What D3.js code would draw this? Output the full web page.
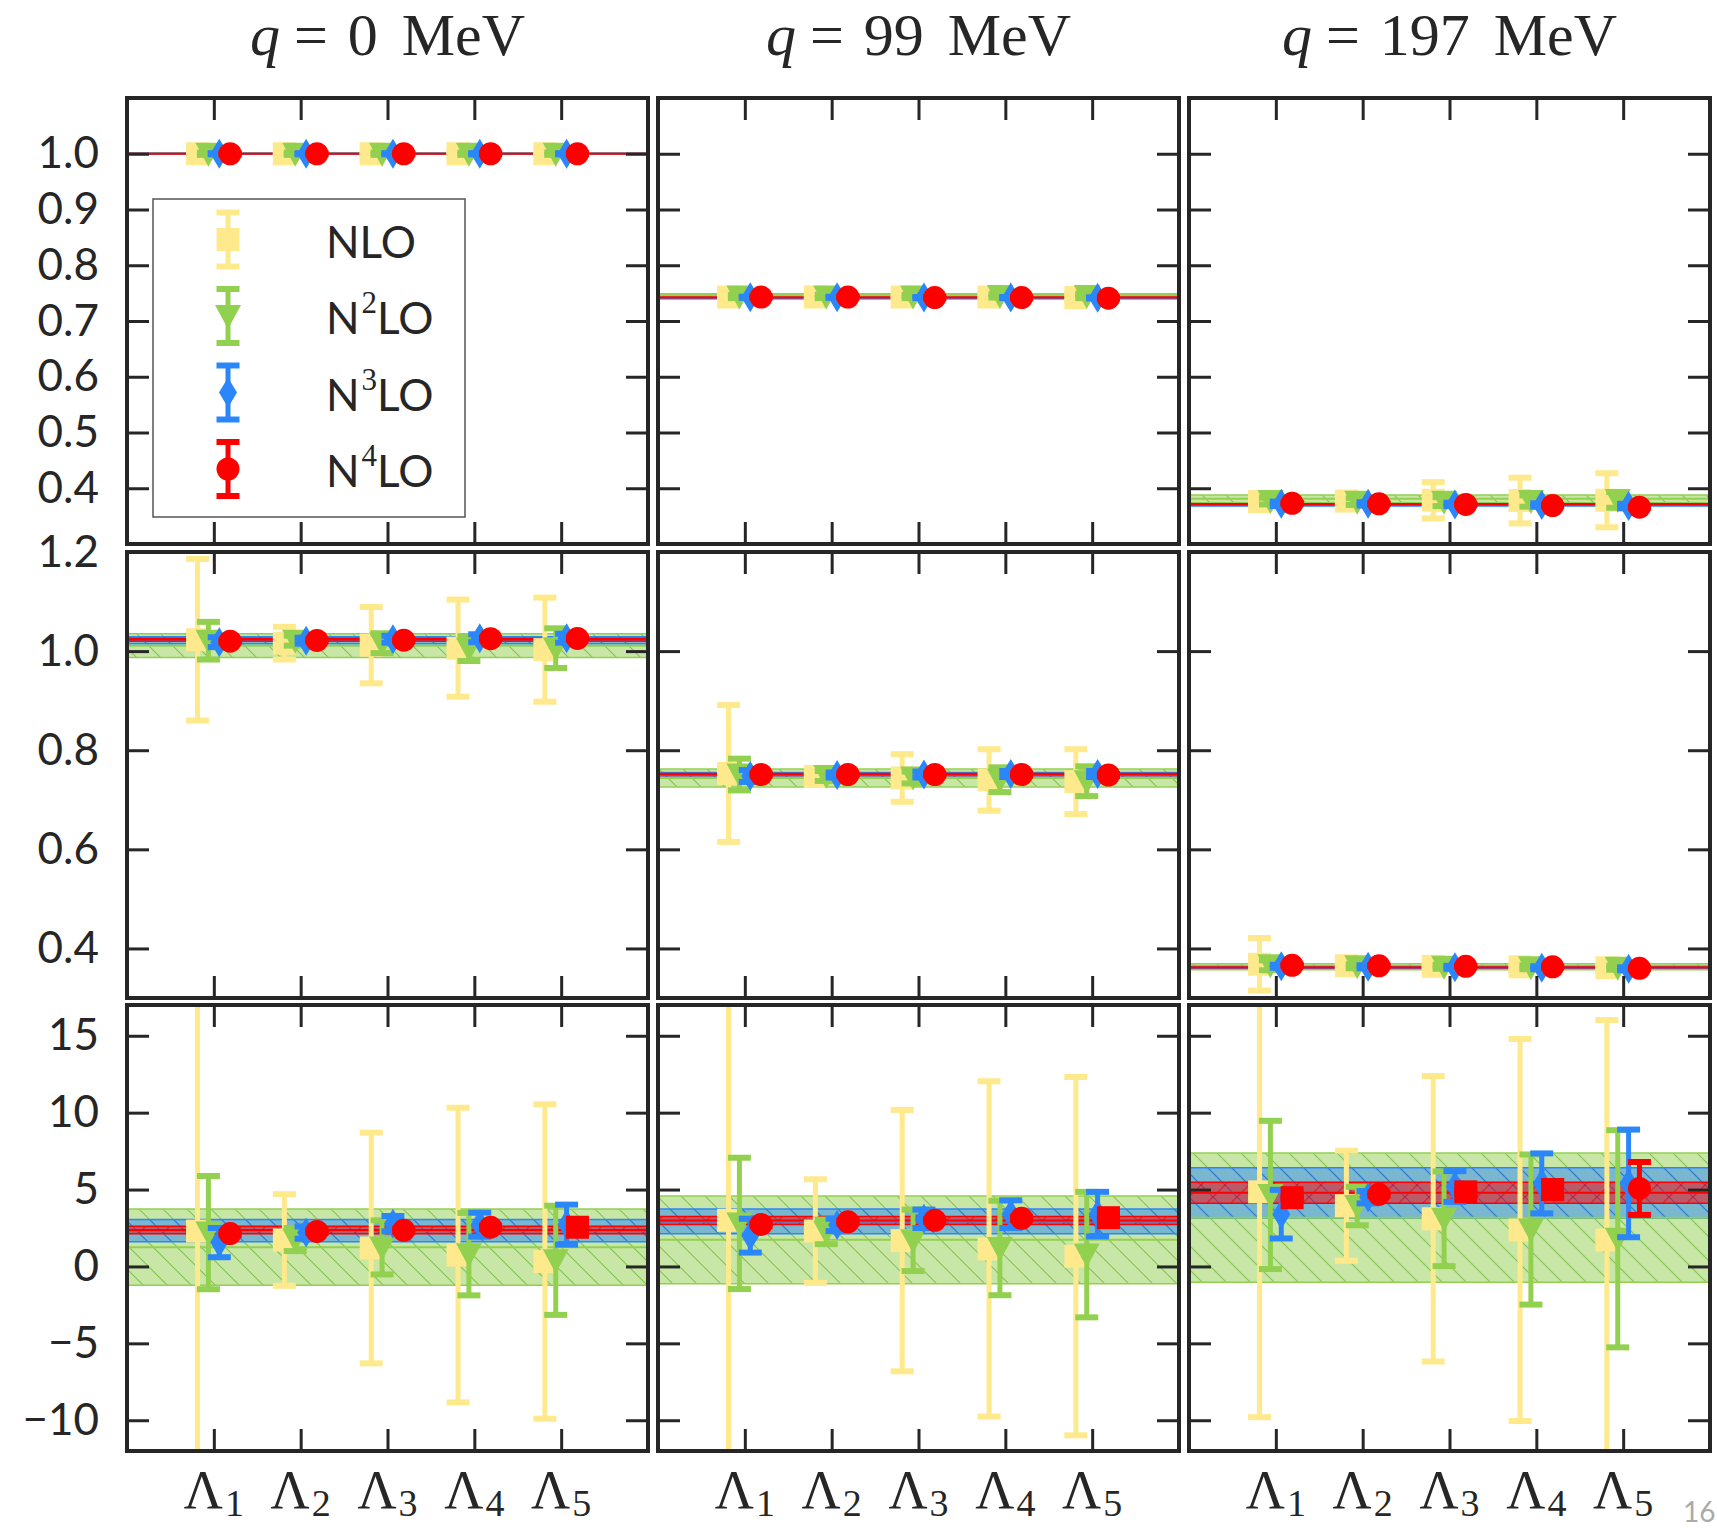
<!DOCTYPE html>
<html lang="en">
<head>
<meta charset="UTF-8">
<title>form factors</title>
<script src="https://cdn.jsdelivr.net/npm/d3@7"></script>
<style>
  body { margin: 0; background: #fff; }
</style>
</head>
<body>
<svg id="chart" width="1717" height="1530"></svg>
<script>
// categories
const orders = ['NLO', 'N2LO', 'N3LO', 'N4LO']
const orderSup = ['', '2', '3', '4']
const cutoffs = [1, 2, 3, 4, 5]
const qValues = [0, 99, 197]
const colors = ['#fee98c', '#92d050', '#2a86f9', '#ff0000']

// y axis per row
const r1Domain = [0.3, 1.1], r1Ticks = [0.4, 0.5, 0.6, 0.7, 0.8, 0.9, 1.0]
const r2Domain = [0.3, 1.2], r2Ticks = [0.4, 0.6, 0.8, 1.0, 1.2]
const r3Domain = [-12, 17], r3Ticks = [-10, -5, 0, 5, 10, 15]

// row 1 : values / errors  (rows of the arrays = NLO, N2LO, N3LO, N4LO)
const r1q0Val = [[1, 1, 1, 1, 1], [1, 1, 1, 1, 1], [1, 1, 1, 1, 1], [1, 1, 1, 1, 1]]
const r1q0Err = [[0.003, 0.003, 0.003, 0.003, 0.003], [0.002, 0.002, 0.002, 0.002, 0.002], [0.001, 0.001, 0.001, 0.001, 0.001], [0.001, 0.001, 0.001, 0.001, 0.001]]
const r1q99Val = [[0.743, 0.743, 0.743, 0.743, 0.742], [0.744, 0.744, 0.744, 0.745, 0.745], [0.7425, 0.7425, 0.742, 0.742, 0.7415], [0.743, 0.743, 0.742, 0.742, 0.741]]
const r1q99Err = [[0.002, 0.003, 0.003, 0.005, 0.006], [0.003, 0.003, 0.003, 0.003, 0.004], [0.001, 0.001, 0.001, 0.001, 0.001], [0.001, 0.001, 0.001, 0.001, 0.001]]
const r1q197Val = [[0.376, 0.377, 0.3785, 0.378, 0.3785], [0.377, 0.376, 0.376, 0.377, 0.379], [0.372, 0.372, 0.371, 0.370, 0.368], [0.373, 0.372, 0.371, 0.369, 0.366]]
const r1q197Err = [[0.004, 0.013, 0.0325, 0.041, 0.0485], [0.006, 0.006, 0.008, 0.010, 0.014], [0.004, 0.003, 0.003, 0.003, 0.004], [0.001, 0.001, 0.001, 0.001, 0.001]]

// row 2
const r2q0Val = [[1.023, 1.016, 1.012, 1.006, 1.003], [1.021, 1.021, 1.016, 1.005, 1.006], [1.018, 1.021, 1.024, 1.026, 1.026], [1.020, 1.0215, 1.022, 1.025, 1.0255]]
const r2q0Err = [[0.163, 0.033, 0.077, 0.098, 0.105], [0.038, 0.010, 0.020, 0.025, 0.040], [0.010, 0.006, 0.007, 0.008, 0.009], [0.002, 0.002, 0.002, 0.002, 0.002]]
const r2q99Val = [[0.753, 0.747, 0.744, 0.740, 0.7365], [0.751, 0.748, 0.745, 0.7405, 0.7375], [0.748, 0.750, 0.751, 0.752, 0.752], [0.751, 0.751, 0.751, 0.751, 0.750]]
const r2q99Err = [[0.138, 0.006, 0.048, 0.062, 0.0655], [0.032, 0.010, 0.012, 0.025, 0.030], [0.012, 0.005, 0.006, 0.006, 0.006], [0.002, 0.002, 0.002, 0.002, 0.002]]
const r2q197Val = [[0.368, 0.365, 0.364, 0.363, 0.361], [0.366, 0.364, 0.363, 0.362, 0.361], [0.364, 0.363, 0.362, 0.361, 0.359], [0.366, 0.365, 0.364, 0.363, 0.360]]
const r2q197Err = [[0.053, 0.006, 0.005, 0.006, 0.006], [0.010, 0.004, 0.004, 0.004, 0.004], [0.003, 0.003, 0.003, 0.003, 0.003], [0.001, 0.001, 0.001, 0.001, 0.001]]

// row 3
const r3q0Val = [[2.3, 1.72, 1.2, 0.74, 0.32], [2.2, 1.75, 1.24, 0.8, 0.4], [1.55, 2.2, 2.78, 2.72, 2.72], [2.14, 2.28, 2.35, 2.55, 2.55]]
const r3q0Err = [[25, 2.98, 7.5, 9.58, 10.22], [3.68, 0.75, 1.76, 2.68, 3.55], [0.95, 0.4, 0.5, 0.78, 1.3], [0.1, 0.1, 0.1, 0.1, 0.1]]
const r3q99Val = [[3.0, 2.3, 1.68, 1.14, 0.67], [2.8, 2.25, 1.7, 1.2, 0.77], [2.0, 2.7, 3.1, 3.4, 3.4], [2.73, 2.9, 3.0, 3.13, 3.17]]
const r3q99Err = [[25, 3.37, 8.5, 10.9, 11.65], [4.27, 0.8, 2.0, 3.07, 4.08], [1.1, 0.4, 0.6, 0.9, 1.45], [0.1, 0.1, 0.1, 0.1, 0.1]]
const r3q197Val = [[4.85, 3.95, 3.1, 2.37, 1.72], [4.65, 3.93, 3.1, 2.4, 1.8], [3.4, 4.5, 5.2, 5.4, 5.4], [4.47, 4.69, 4.85, 5.0, 5.07]]
const r3q197Err = [[14.65, 3.58, 9.28, 12.42, 14.3], [4.82, 1.25, 3.08, 4.88, 7.06], [1.58, 0.4, 1.0, 1.95, 3.5], [0.1, 0.1, 0.1, 0.55, 1.72]]

// N4LO marker shape in row 3 (o = circle, s = square)
const r3q0Shape = ['o', 'o', 'o', 'o', 's']
const r3q99Shape = ['o', 'o', 'o', 'o', 's']
const r3q197Shape = ['s', 'o', 's', 's', 'o']

// bands [N2LO, N3LO, N4LO] : middle and half width, per q
const r1BandMid = [[1.0, 1.0, 1.0], [0.747, 0.741, 0.742], [0.381, 0.370, 0.371]]
const r1BandHalf = [[0.001, 0.0008, 0.0005], [0.002, 0.001, 0.0008], [0.007, 0.002, 0.001]]
const r2BandMid = [[1.011, 1.022, 1.023], [0.744, 0.750, 0.751], [0.363, 0.362, 0.362]]
const r2BandHalf = [[0.024, 0.007, 0.003], [0.018, 0.005, 0.002], [0.006, 0.002, 0.001]]
const r3BandMid = [[1.25, 2.33, 2.37], [1.73, 2.93, 2.98], [3.17, 4.77, 4.79]]
const r3BandHalf = [[2.48, 0.73, 0.25], [2.85, 0.8, 0.26], [4.2, 1.64, 0.68]]

const rows = [
    { domain: r1Domain, ticks: r1Ticks, fmt: d3.format('.1f'), vals: [r1q0Val, r1q99Val, r1q197Val], errs: [r1q0Err, r1q99Err, r1q197Err], mid: r1BandMid, half: r1BandHalf, shapes: null },
    { domain: r2Domain, ticks: r2Ticks, fmt: d3.format('.1f'), vals: [r2q0Val, r2q99Val, r2q197Val], errs: [r2q0Err, r2q99Err, r2q197Err], mid: r2BandMid, half: r2BandHalf, shapes: null },
    { domain: r3Domain, ticks: r3Ticks, fmt: d3.format('d'), vals: [r3q0Val, r3q99Val, r3q197Val], errs: [r3q0Err, r3q99Err, r3q197Err], mid: r3BandMid, half: r3BandHalf, shapes: [r3q0Shape, r3q99Shape, r3q197Shape] }
]

const offsets = [-0.1875, -0.0625, 0.0625, 0.1875]
const baseShapes = ['s', 'v', 'd', 'o']
const ink = '#262626'
const W = 521, H = 446
const colX = [127, 658, 1189]
const rowY = [98, 552, 1005]

const svg = d3.select('#chart')
const defs = svg.append('defs')

// hatch patterns
function hatch(id, color, dir, op) {
    let p = defs.append('pattern').attr('id', id).attr('patternUnits', 'userSpaceOnUse')
        .attr('width', 24).attr('height', 24)
    let d = dir === '\\' ? 'M0,0L24,24M-6,18L6,30M18,-6L30,6' : 'M0,24L24,0M-6,6L6,-6M18,30L30,18'
    p.append('path').attr('d', d).attr('stroke', color).attr('stroke-width', 1.1).attr('opacity', op)
}
hatch('hG', '#6fb83a', '\\', 0.8)
hatch('hB', '#1f6fe0', '\\', 0.8)
hatch('hR', '#ff0000', '/', 0.8)
const hatchIds = ['hG', 'hB', 'hR']

function drawMarker(g, shape, x, y, color) {
    if (shape === 's') {
        g.append('rect').attr('x', x - 11.5).attr('y', y - 11.5).attr('width', 23).attr('height', 23).attr('fill', color)
    } else if (shape === 'v') {
        g.append('path').attr('d', `M${x - 13},${y - 11}L${x + 13},${y - 11}L${x},${y + 13}Z`).attr('fill', color)
    } else if (shape === 'd') {
        g.append('path').attr('d', `M${x},${y - 15}L${x + 9},${y}L${x},${y + 15}L${x - 9},${y}Z`).attr('fill', color)
    } else {
        g.append('circle').attr('cx', x).attr('cy', y).attr('r', 11.5).attr('fill', color)
    }
}

function errBar(g, x, y1, y2, color) {
    g.append('line').attr('x1', x).attr('x2', x).attr('y1', y1).attr('y2', y2)
        .attr('stroke', color).attr('stroke-width', 5)
    ;[y1, y2].forEach(yy => {
        g.append('line').attr('x1', x - 11.5).attr('x2', x + 11.5).attr('y1', yy).attr('y2', yy)
            .attr('stroke', color).attr('stroke-width', 6)
    })
}

rows.forEach((row, r) => {
    qValues.forEach((q, c) => {
        let g = svg.append('g').attr('transform', `translate(${colX[c]},${rowY[r]})`)
        let x = d3.scaleLinear().domain([0, 6]).range([0, W])
        let y = d3.scaleLinear().domain(row.domain).range([H, 0])
        let cid = `clip${r}${c}`
        defs.append('clipPath').attr('id', cid).append('rect').attr('width', W).attr('height', H)
        let plot = g.append('g').attr('clip-path', `url(#${cid})`)

        // bands N2LO, N3LO, N4LO
        row.mid[c].forEach((m, b) => {
            let h = row.half[c][b]
            let col = colors[b + 1]
            let top = y(m + h), bot = y(m - h)
            plot.append('rect').attr('x', 0).attr('width', W).attr('y', top).attr('height', bot - top)
                .attr('fill', col).attr('fill-opacity', 0.5)
            plot.append('rect').attr('x', 0).attr('width', W).attr('y', top).attr('height', bot - top)
                .attr('fill', `url(#${hatchIds[b]})`)
            ;[top, bot].forEach(yy => plot.append('line').attr('x1', 0).attr('x2', W).attr('y1', yy).attr('y2', yy)
                .attr('stroke', col).attr('stroke-width', 1.5))
        })
        row.mid[c].forEach((m, b) => {
            plot.append('line').attr('x1', 0).attr('x2', W).attr('y1', y(m)).attr('y2', y(m))
                .attr('stroke', colors[b + 1]).attr('stroke-width', 2)
        })

        // error bars + markers
        orders.forEach((o, k) => {
            cutoffs.forEach((lam, i) => {
                let v = row.vals[c][k][i], e = row.errs[c][k][i]
                let px = x(lam + offsets[k])
                errBar(plot, px, y(v + e), y(v - e), colors[k])
                let shape = baseShapes[k]
                if (k === 3 && row.shapes) shape = row.shapes[c][i]
                drawMarker(plot, shape, px, y(v), colors[k])
            })
        })

        // ticks on all four sides, pointing inward
        let left = g.append('g').call(d3.axisLeft(y).tickValues(row.ticks).tickSize(-22).tickPadding(28)
            .tickFormat(c === 0 ? row.fmt : ''))
        let right = g.append('g').attr('transform', `translate(${W},0)`)
            .call(d3.axisRight(y).tickValues(row.ticks).tickSize(-22).tickFormat(''))
        let topAx = g.append('g').call(d3.axisTop(x).tickValues(cutoffs).tickSize(-22).tickFormat(''))
        let botAx = g.append('g').attr('transform', `translate(0,${H})`)
            .call(d3.axisBottom(x).tickValues(cutoffs).tickSize(-22).tickFormat(''))
        ;[left, right, topAx, botAx].forEach(a => {
            a.select('.domain').remove()
            a.selectAll('line').attr('stroke', ink).attr('stroke-width', 3)
            a.selectAll('text').attr('fill', ink).style('font-family', 'Lato, "Open Sans", sans-serif')
                .style('font-size', '44px')
        })

        g.append('rect').attr('width', W).attr('height', H).attr('fill', 'none')
            .attr('stroke', ink).attr('stroke-width', 4)

        // column titles
        if (r === 0) {
            let t = svg.append('text').attr('x', colX[c] + W / 2).attr('y', 55).attr('text-anchor', 'middle')
                .style('font-family', '"Liberation Serif", "DejaVu Serif", serif').style('font-size', '60px').attr('fill', ink)
            t.append('tspan').style('font-style', 'italic').text('q')
            t.append('tspan').attr('dx', 14).text('=')
            t.append('tspan').attr('dx', 20).text(q)
            t.append('tspan').attr('dx', 24).text('MeV')
        }
        // Lambda labels
        if (r === 2) {
            cutoffs.forEach(lam => {
                let t = svg.append('text').attr('x', colX[c] + x(lam)).attr('y', 1508).attr('text-anchor', 'middle')
                    .style('font-family', '"Liberation Serif", "DejaVu Serif", serif').attr('fill', ink)
                t.append('tspan').style('font-size', '54px').text('Λ')
                t.append('tspan').style('font-size', '38px').attr('dy', 8).attr('dx', 2).text(lam)
            })
        }
    })
})

// legend in the first panel
const leg = svg.append('g').attr('transform', 'translate(153,199)')
leg.append('rect').attr('width', 312).attr('height', 318).attr('fill', '#fff')
    .attr('stroke', '#555').attr('stroke-width', 1.5)
orders.forEach((o, k) => {
    let cy = 40.5 + k * 76.5
    errBar(leg, 75, cy - 27, cy + 27, colors[k])
    drawMarker(leg, baseShapes[k], 75, cy, colors[k])
    let t = leg.append('text').attr('x', 173).attr('y', cy + 18).attr('fill', ink)
        .style('font-family', 'Lato, "Open Sans", sans-serif').style('font-size', '44px')
    t.append('tspan').text('N')
    if (orderSup[k]) {
        t.append('tspan').attr('dy', -21).attr('dx', 2)
            .style('font-family', '"Liberation Serif", serif').style('font-size', '31px').text(orderSup[k])
        t.append('tspan').attr('dy', 21).text('LO')
    } else {
        t.append('tspan').text('LO')
    }
})

// page number in the corner
svg.append('text').attr('x', 1683).attr('y', 1522).attr('fill', '#aaa')
    .style('font-family', 'Lato, sans-serif').style('font-size', '28px').text('16')
</script>
</body>
</html>
